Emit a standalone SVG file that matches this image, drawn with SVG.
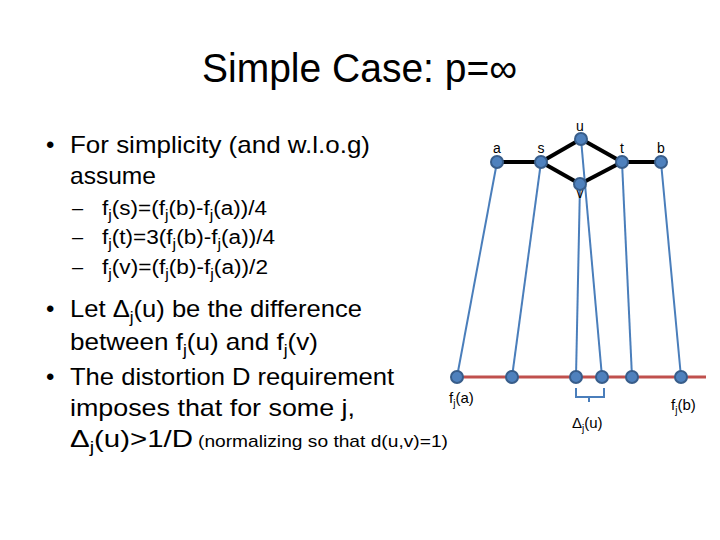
<svg xmlns="http://www.w3.org/2000/svg" width="720" height="540" viewBox="0 0 720 540">
<style>
text{font-family:"Liberation Sans",Arial,sans-serif;fill:#000}
.title{font-size:40px}
.b{font-size:24px}
.s{font-size:20px}
.sm{font-size:17px}
.lbl{font-size:14px}
.fl{font-size:15px}
.sub{font-size:10px}
.node{fill:#4F81BD;stroke:#385D8A;stroke-width:2}
.edge{stroke:#000;stroke-width:4;fill:none}
.conn{stroke:#4A7EBB;stroke-width:2;fill:none}
.axis{stroke:#C0504D;stroke-width:3;fill:none}
</style>
<rect width="720" height="540" fill="#fff"/>
<text class="title" x="202" y="82" textLength="315" lengthAdjust="spacingAndGlyphs">Simple Case: p=∞</text>

<g id="text-body">
<text class="b" x="46" y="153">•</text>
<text class="b" x="70" y="153" textLength="300" lengthAdjust="spacingAndGlyphs">For simplicity (and w.l.o.g)</text>
<text class="b" x="70" y="184" textLength="86" lengthAdjust="spacingAndGlyphs">assume</text>
<text class="s" x="72" y="215">–</text>
<text class="s" x="102" y="215" textLength="165" lengthAdjust="spacingAndGlyphs">f<tspan font-size="14" dy="5">j</tspan><tspan dy="-5">(s)=(f</tspan><tspan font-size="14" dy="5">j</tspan><tspan dy="-5">(b)-f</tspan><tspan font-size="14" dy="5">j</tspan><tspan dy="-5">(a))/4</tspan></text>
<text class="s" x="72" y="244">–</text>
<text class="s" x="102" y="244" textLength="173" lengthAdjust="spacingAndGlyphs">f<tspan font-size="14" dy="5">j</tspan><tspan dy="-5">(t)=3(f</tspan><tspan font-size="14" dy="5">j</tspan><tspan dy="-5">(b)-f</tspan><tspan font-size="14" dy="5">j</tspan><tspan dy="-5">(a))/4</tspan></text>
<text class="s" x="72" y="274">–</text>
<text class="s" x="102" y="274" textLength="166" lengthAdjust="spacingAndGlyphs">f<tspan font-size="14" dy="5">j</tspan><tspan dy="-5">(v)=(f</tspan><tspan font-size="14" dy="5">j</tspan><tspan dy="-5">(b)-f</tspan><tspan font-size="14" dy="5">j</tspan><tspan dy="-5">(a))/2</tspan></text>
<text class="b" x="46" y="317">•</text>
<text class="b" x="70" y="317" textLength="292" lengthAdjust="spacingAndGlyphs">Let Δ<tspan font-size="16" dy="6">j</tspan><tspan dy="-6">(u) be the difference</tspan></text>
<text class="b" x="70" y="350" textLength="248" lengthAdjust="spacingAndGlyphs">between f<tspan font-size="16" dy="6">j</tspan><tspan dy="-6">(u) and f</tspan><tspan font-size="16" dy="6">j</tspan><tspan dy="-6">(v)</tspan></text>
<text class="b" x="46" y="385">•</text>
<text class="b" x="70" y="385" textLength="324" lengthAdjust="spacingAndGlyphs">The distortion D requirement</text>
<text class="b" x="70" y="416" textLength="285" lengthAdjust="spacingAndGlyphs">imposes that for some j,</text>
<text class="b" x="70" y="447" textLength="123" lengthAdjust="spacingAndGlyphs">Δ<tspan font-size="16" dy="6">j</tspan><tspan dy="-6">(u)&gt;1/D</tspan></text>
<text class="sm" x="198" y="447" textLength="250" lengthAdjust="spacingAndGlyphs">(normalizing so that d(u,v)=1)</text>
</g>

<g id="connectors">
<polyline class="axis" points="457,377 706,377"/>
<line class="edge" x1="497" y1="162" x2="541" y2="162"/>
<line class="edge" x1="541" y1="162" x2="581" y2="139"/>
<line class="edge" x1="541" y1="162" x2="580" y2="184"/>
<line class="edge" x1="581" y1="139" x2="622" y2="162"/>
<line class="edge" x1="580" y1="184" x2="622" y2="162"/>
<line class="edge" x1="622" y1="162" x2="661" y2="162"/>
<line class="conn" x1="497" y1="162" x2="457" y2="377"/>
<line class="conn" x1="541" y1="162" x2="512" y2="377"/>
<line class="conn" x1="581" y1="139" x2="602" y2="377"/>
<line class="conn" x1="580" y1="184" x2="576" y2="377"/>
<line class="conn" x1="622" y1="162" x2="632" y2="377"/>
<line class="conn" x1="661" y1="162" x2="681" y2="377"/>
<path class="conn" d="M576,388 V397 H604 V388 M589,397 V402"/>
</g>

<g id="node-a"><circle class="node" cx="497" cy="162" r="6"/><text class="lbl" x="497" y="153" text-anchor="middle">a</text></g>
<g id="node-s"><circle class="node" cx="541" cy="162" r="6"/><text class="lbl" x="541" y="153" text-anchor="middle">s</text></g>
<g id="node-u"><circle class="node" cx="581" cy="139" r="6"/><text class="lbl" x="580" y="131" text-anchor="middle">u</text></g>
<g id="node-t"><circle class="node" cx="622" cy="162" r="6"/><text class="lbl" x="622" y="153" text-anchor="middle">t</text></g>
<g id="node-b"><circle class="node" cx="661" cy="162" r="6"/><text class="lbl" x="661" y="153" text-anchor="middle">b</text></g>
<g id="node-v"><text class="lbl" x="580" y="198" text-anchor="middle">v</text><circle class="node" cx="580" cy="184" r="6"/></g>

<g id="node-fa"><circle class="node" cx="457" cy="377" r="6"/><text class="fl" x="449" y="403">f<tspan class="sub" dy="4">j</tspan><tspan dy="-4">(a)</tspan></text></g>
<g id="node-fs"><circle class="node" cx="512" cy="377" r="6"/></g>
<g id="node-fv"><circle class="node" cx="576" cy="377" r="6"/></g>
<g id="node-fu"><circle class="node" cx="602" cy="377" r="6"/></g>
<g id="node-ft"><circle class="node" cx="632" cy="377" r="6"/></g>
<g id="node-fb"><circle class="node" cx="681" cy="377" r="6"/><text class="fl" x="671" y="410">f<tspan class="sub" dy="4">j</tspan><tspan dy="-4">(b)</tspan></text></g>
<g id="label-delta"><text class="fl" x="572" y="428">Δ<tspan class="sub" dy="4">j</tspan><tspan dy="-4">(u)</tspan></text></g>
</svg>
